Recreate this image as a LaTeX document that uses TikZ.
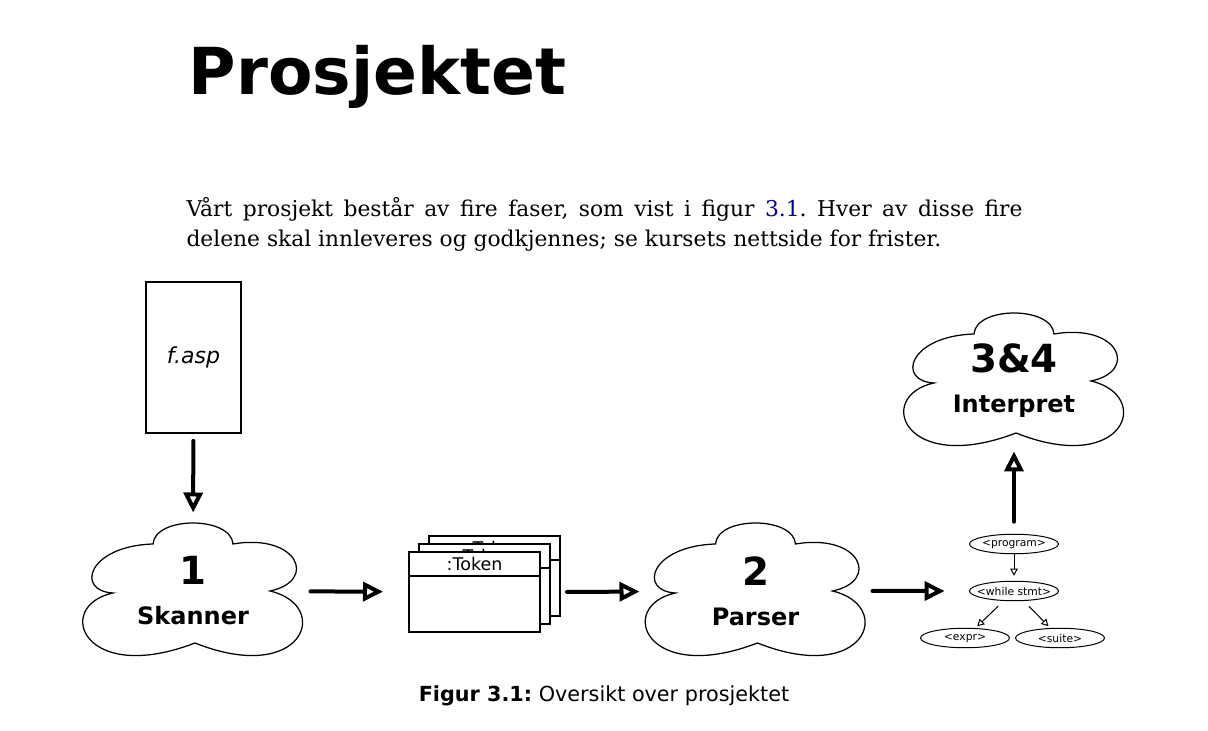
\documentclass[tikz,border=0pt]{standalone}
\usepackage{fontspec}
\setmainfont{DejaVu Serif}
\setsansfont{DejaVu Sans}
\usetikzlibrary{arrows.meta,shapes.geometric,shapes.multipart}
\definecolor{linkblue}{rgb}{0,0,0.6}
\frenchspacing

% outline of a cloud round a phase node
\newcommand{\puffs}[1]{%
  \draw[puff,shift={(#1.center)}] (-80,2)
    .. controls (-118,0) and (-105,-45) .. (-40,-47)
    .. controls (-38,-75) and (38,-75) .. (40,-47)
    .. controls (105,-58) and (125,-10) .. (77,0)
    .. controls (140,15) and (110,95) .. (2,52)
    .. controls (-110,95) and (-140,15) .. (-80,2) -- cycle;}
\newcommand{\phasenum}{\fontsize{15.5}{15.5}\selectfont}

\begin{document}
\begin{tikzpicture}[x=0.4pt,y=-0.4pt]

\tikzstyle{phase}=[minimum width=90.4pt, minimum height=54.4pt, inner sep=0pt, align=center, font=\sffamily\bfseries\fontsize{9.6}{16}\selectfont]
\tikzstyle{puff}=[line width=0.5pt]
\tikzstyle{doc}=[draw, line width=0.7pt, minimum width=38pt, minimum height=60.4pt, font=\sffamily\itshape\fontsize{8.8}{10}\selectfont]
\tikzstyle{token}=[draw, fill=white, line width=0.8pt, rectangle split, rectangle split parts=2, text width=52.4pt, align=center, inner xsep=0pt, inner ysep=1.85pt, font=\sffamily\fontsize{7}{8}\selectfont]
\tikzstyle{syntax}=[draw, ellipse, line width=0.4pt, minimum width=35.6pt, minimum height=7.8pt, inner xsep=-10pt, inner ysep=-2pt, font=\sffamily\fontsize{4.3}{5}\selectfont]
\tikzstyle{flow}=[line width=1.6pt, line cap=round, -{Triangle[open,length=8pt,width=7.6pt]}]
\tikzstyle{syntaxarrow}=[line width=0.4pt, -{Triangle[open,length=2.8pt,width=3pt]}]

\useasboundingbox (0,0) rectangle (1208,731);

\node[anchor=base west, font=\sffamily\bfseries\fontsize{25.9}{30}\selectfont] (title) at (180,95) {Prosjektet};
\node[anchor=base west, text width=334.4pt, align=justify, inner sep=0pt, font=\fontsize{8.71}{12}\selectfont] (intro) at (186,217)
  {Vårt prosjekt består av fire faser, som vist i figur \textcolor{linkblue}{3.1}. Hver av disse fire\linebreak delene skal innleveres og godkjennes; se kursets nettside for frister.};

\node[doc] (file) at (193.5,357.5) {f.asp};

\node[phase] (skanner) at (193,591) {{\phasenum 1}\\Skanner};
\node[phase] (parser) at (755.5,591) {{\phasenum 2}\\Parser};
\node[phase] (interpret) at (1014,381) {{\phasenum 3\&4}\\Interpret};
\puffs{skanner}
\puffs{parser}
\puffs{interpret}

\node[token] (tok3) at (494.5,576) {:Token \nodepart{two} \rule{0pt}{17.9pt}};
\node[token] (tok2) at (484.5,584) {:Token \nodepart{two} \rule{0pt}{17.9pt}};
\node[token] (tok1) at (474.5,592) {:Token \nodepart{two} \rule{0pt}{17.9pt}};

\node[syntax] (program) at (1014,544) {<program>};
\node[syntax, below of=program, node distance=18.8pt] (while) {<while stmt>};
\node[syntax, below of=while, node distance=18.8pt, xshift=-19.6pt] (expr) {<expr>};
\node[syntax, below of=while, node distance=18.8pt, xshift=18.4pt] (suite) {<suite>};

\draw[flow, shorten <=2.8pt, shorten >=4pt] (file) -- (skanner);
\draw[flow, shorten <=1.6pt, shorten >=10pt] (skanner) -- (tok1);
\draw[flow, shorten <=2.4pt, shorten >=1pt] (tok1.east -| tok3.east) -- (parser);
\draw[flow, shorten <=1.4pt, shorten >=9.8pt] (parser) -- (while);
\draw[flow, shorten <=4.8pt, shorten >=0.8pt] (program) -- (interpret);

\draw[syntaxarrow, shorten >=2pt] (program) -- (while);
\draw[syntaxarrow, shorten <=3pt, shorten >=1pt] (while) -- (expr);
\draw[syntaxarrow, shorten <=3pt, shorten >=1pt] (while) -- (suite);

\node[anchor=base, font=\sffamily\fontsize{8.3}{10}\selectfont] (caption) at (604,702) {\textbf{Figur 3.1:} Oversikt over prosjektet};

\end{tikzpicture}
\end{document}
